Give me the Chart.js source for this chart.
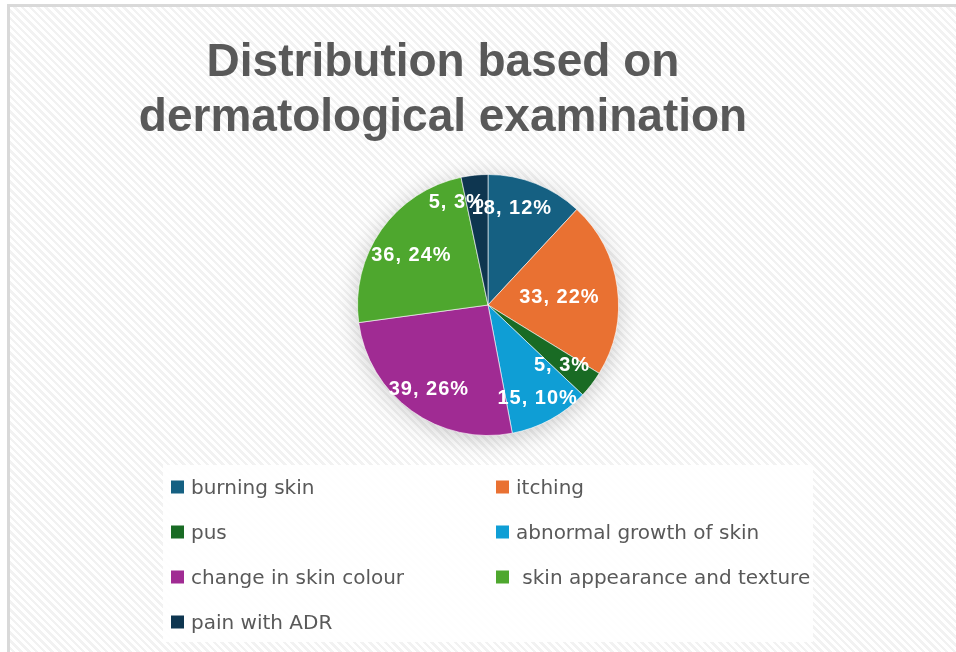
<!DOCTYPE html>
<html>
<head>
<meta charset="utf-8">
<script src="https://cdn.jsdelivr.net/npm/chart.js@4/dist/chart.umd.min.js"></script>
<style>
  html, body { margin: 0; padding: 0; background: #fff; }
  body { width: 956px; height: 652px; position: relative; overflow: hidden; }
  #frame {
    position: absolute; left: 7px; top: 4px; right: -10px; bottom: -10px;
    border-left: 3px solid #d9d9d9; border-top: 3px solid #d9d9d9;
    background: repeating-linear-gradient(45deg, #ffffff 0px, #ffffff 3px, #f2f2f2 3px, #f2f2f2 5.5px);
  }
  #wrap { position: absolute; left: 0; top: 0; width: 956px; height: 652px; }
</style>
</head>
<body>
<div id="frame"></div>
<div id="wrap"><canvas id="dermChart"></canvas></div>
<script>
// data
const categories = ['burning skin', 'itching', 'pus', 'abnormal growth of skin',
  'change in skin colour', ' skin appearance and texture', 'pain with ADR'];
const counts = [18, 33, 5, 15, 39, 36, 5];
const sliceColors = ['#156082', '#e97132', '#196b24', '#0f9ed5', '#a02b93', '#4ea72e', '#0e3650'];
const titleLines = ['Distribution based on', 'dermatological examination'];

const total = counts.reduce((a, b) => a + b, 0);

// title, legend box, shadow and slice labels
const decor = {
  id: 'decor',
  beforeDraw(chart) {
    const ctx = chart.ctx;
    ctx.save();
    ctx.fillStyle = 'rgba(255,255,255,0.9)';
    ctx.fillRect(163, 465, 650, 177);
    ctx.fillStyle = '#595959';
    ctx.font = 'bold 46px "Liberation Sans", Arial, sans-serif';
    ctx.textAlign = 'center';
    ctx.textBaseline = 'alphabetic';
    ctx.fillText(titleLines[0], 443, 76);
    ctx.fillText(titleLines[1], 443, 131);
    ctx.restore();
  },
  beforeDatasetsDraw(chart) {
    const arc = chart.getDatasetMeta(0).data[0];
    if (!arc) return;
    const ctx = chart.ctx;
    ctx.save();
    ctx.shadowColor = 'rgba(0,0,0,0.22)';
    ctx.shadowBlur = 24;
    ctx.shadowOffsetY = 4;
    ctx.fillStyle = '#aaa';
    ctx.beginPath();
    ctx.arc(arc.x, arc.y, arc.outerRadius - 1, 0, Math.PI * 2);
    ctx.fill();
    ctx.restore();
  },
  afterDatasetsDraw(chart, args, opts) {
    const ctx = chart.ctx;
    ctx.save();
    ctx.fillStyle = '#ffffff';
    ctx.font = 'bold 20px "Liberation Sans", Arial, sans-serif';
    ctx.letterSpacing = '1px';
    ctx.textAlign = 'center';
    ctx.textBaseline = 'middle';
    chart.getDatasetMeta(0).data.forEach((arc, i) => {
      const mid = (arc.startAngle + arc.endAngle) / 2 + (opts.turn[i] || 0) * Math.PI / 180;
      const r = arc.outerRadius * opts.radius[i];
      const v = counts[i];
      const pct = Math.round(v / total * 100);
      ctx.fillText(v + ', ' + pct + '%', arc.x + Math.cos(mid) * r, arc.y + Math.sin(mid) * r);
    });
    ctx.restore();
  },
  afterDraw(chart) {
    const ctx = chart.ctx;
    ctx.save();
    ctx.font = '20px "DejaVu Sans", sans-serif';
    ctx.textBaseline = 'alphabetic';
    ctx.textAlign = 'left';
    categories.forEach((name, i) => {
      const x = i % 2 === 0 ? 171 : 496;
      const y = 487 + Math.floor(i / 2) * 45;
      ctx.fillStyle = sliceColors[i];
      ctx.fillRect(x, y - 6.5, 13, 13);
      ctx.fillStyle = '#595959';
      ctx.fillText(name, x + 20, y + 7);
    });
    ctx.restore();
  }
};

const dermChart = new Chart(document.getElementById('dermChart'), {
  type: 'pie',
  data: {
    labels: categories,
    datasets: [{
      data: counts,
      backgroundColor: sliceColors,
      borderColor: 'rgba(255,255,255,0.6)',
      borderWidth: 1,
      hoverOffset: 0
    }]
  },
  options: {
    responsive: true,
    maintainAspectRatio: false,
    animation: false,
    layout: { padding: { left: 357, right: 337, top: 174, bottom: 216 } },
    plugins: {
      legend: { display: false },
      title: { display: false },
      tooltip: { enabled: false },
      decor: {
        radius: [0.76, 0.55, 0.73, 0.81, 0.79, 0.70, 0.82],
        turn: [-7.5, 1.5, 1.5, 0.6, -0.8, -2.2, -11]
      }
    }
  },
  plugins: [decor]
});
</script>
</body>
</html>
